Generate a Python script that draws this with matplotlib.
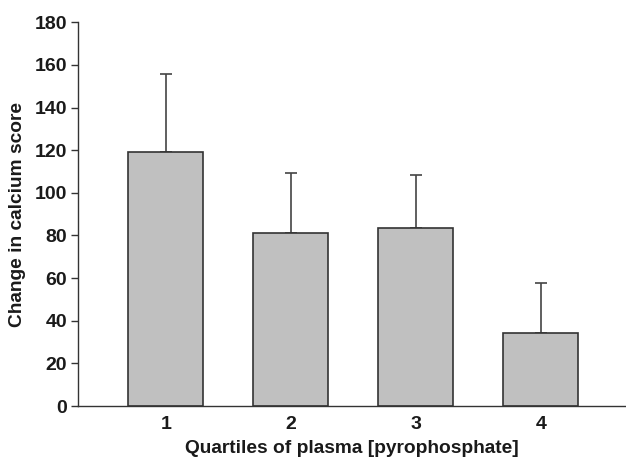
import matplotlib
matplotlib.use("Agg")
import matplotlib.pyplot as plt

quartiles = ["1", "2", "3", "4"]
values = [119.3, 81.3, 83.3, 34.1]
upper_err = [36.5, 28.0, 25.2, 23.4]
yticks = [0, 20, 40, 60, 80, 100, 120, 140, 160, 180]

plt.rcParams['font.family'] = ['Liberation Sans', 'DejaVu Sans']
plt.rcParams['font.weight'] = 'bold'

fig = plt.figure(figsize=(6.26, 4.58), dpi=100)
ax = fig.add_axes([0.1246, 0.1135, 0.8754, 0.838])

pos = [1, 2, 3, 4]
ax.bar(pos, values, width=0.6, color="#c0c0c0", edgecolor="#333333", linewidth=1.2, zorder=2)
ax.errorbar(pos, values, yerr=[[0]*4, upper_err], fmt="none", ecolor="#444444",
            elinewidth=1.2, capsize=4.5, capthick=1.2, zorder=1)

ax.set_xlim(0.296, 4.68)
ax.set_ylim(0, 180)
ax.set_yticks(yticks)
ax.set_xticks(pos)
ax.set_xticklabels(quartiles)
for s in ["top", "right"]:
    ax.spines[s].set_visible(False)
for s in ["left", "bottom"]:
    ax.spines[s].set_color("#333333")
    ax.spines[s].set_linewidth(1.0)
ax.tick_params(axis="y", direction="out", length=5, width=1.0, color="#333333",
               labelsize=14, labelcolor="#1a1a1a", pad=3)
ax.tick_params(axis="x", length=0, labelsize=14, labelcolor="#1a1a1a", pad=7)
ax.set_ylabel("Change in calcium score", fontsize=13.8, fontweight="bold", color="#1a1a1a", labelpad=6)
ax.set_xlabel("Quartiles of plasma [pyrophosphate]", fontsize=13.8, fontweight="bold", color="#1a1a1a", labelpad=5)

fig.savefig("out.png", dpi=100)
